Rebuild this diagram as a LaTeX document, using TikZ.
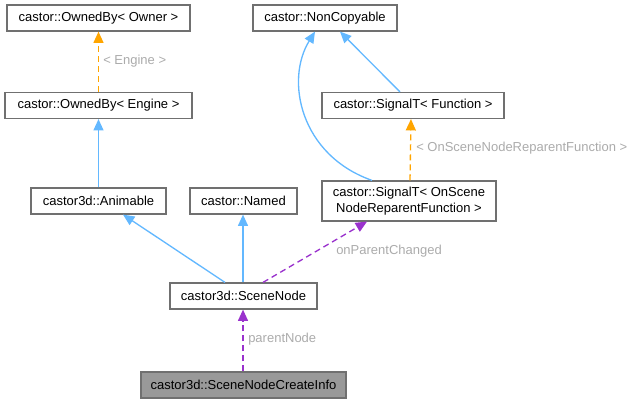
\documentclass[tikz,border=0pt]{standalone}
\usepackage{fontspec}
\setmainfont{Liberation Sans}
\usetikzlibrary{arrows.meta,calc}
\definecolor{edgeblue}{HTML}{63B8FF}
\definecolor{edgeorange}{HTML}{FFA500}
\definecolor{edgepurple}{HTML}{9A32CD}
\definecolor{boxborder}{HTML}{707070}
\definecolor{labelgray}{HTML}{ABABAB}
\definecolor{focusfill}{HTML}{999999}
\tikzset{
  cls/.style={draw=boxborder, fill=white, line width=0.9pt, rectangle, inner sep=0pt,
    font=\fontsize{9.75}{11.5}\selectfont, align=center, text=black},
  tip/.style={-{Triangle[length=8.5pt,width=7.5pt]}},
  inh/.style={draw=edgeblue, line width=1pt, tip},
  tmpl/.style={draw=edgeorange, line width=1pt, dash pattern=on 4.5pt off 3pt, tip},
  use/.style={draw=edgepurple, line width=1pt, dash pattern=on 4.5pt off 3pt, tip},
  lbl/.style={text=labelgray, font=\fontsize{9.75}{11.5}\selectfont, anchor=west, inner sep=0pt},
}
\begin{document}
\begin{tikzpicture}[x=0.75pt,y=-0.75pt]
\useasboundingbox (0,0) rectangle (632,403);
% nodes
\node[cls, minimum width=183*0.75pt, minimum height=26*0.75pt] (own) at (98.5,18) {castor::OwnedBy< Owner >};
\node[cls, minimum width=187*0.75pt, minimum height=26*0.75pt] (eng) at (98.5,105.5) {castor::OwnedBy< Engine >};
\node[cls, minimum width=144*0.75pt, minimum height=26*0.75pt] (nc) at (325,18) {castor::NonCopyable};
\node[cls, minimum width=182*0.75pt, minimum height=26*0.75pt] (sf) at (413,105.5) {castor::SignalT< Function >};
\node[cls, minimum width=174*0.75pt, minimum height=40*0.75pt] (so) at (409,201) {castor::SignalT< OnScene\\NodeReparentFunction >};
\node[cls, minimum width=135*0.75pt, minimum height=26*0.75pt] (an) at (98.5,201) {castor3d::Animable};
\node[cls, minimum width=107*0.75pt, minimum height=26*0.75pt] (nm) at (243.5,201) {castor::Named};
\node[cls, minimum width=147*0.75pt, minimum height=26*0.75pt] (sn) at (243.5,296) {castor3d::SceneNode};
\node[cls, fill=focusfill, minimum width=205*0.75pt, minimum height=26*0.75pt] (ci) at (243.5,385) {castor3d::SceneNodeCreateInfo};
% edges
\draw[tmpl] (eng.north) -- (own.south);
\node[lbl] (l1) at (103,61) {< Engine >};
\draw[inh] (an.north) -- (eng.south);
\draw[inh] ($(so.north)+(-37,0)$) .. controls (300,155) and (285,80) .. ($(nc.south)+(-10,0)$);
\draw[inh] ($(sf.north)+(-13,0)$) -- ($(nc.south)+(15,0)$);
\draw[tmpl] ($(so.north)+(1,0)$) -- ($(sf.south)+(-2,0)$);
\node[lbl] (l2) at (416,148) {< OnSceneNodeReparentFunction >};
\draw[inh] ($(sn.north)+(-18.5,0)$) -- ($(an.south)+(24.5,0)$);
\draw[inh] ($(sn.north)+(-0.5,0)$) -- ($(nm.south)+(-0.5,0)$);
\draw[use] ($(sn.north)+(19.5,0)$) -- ($(so.south)+(-42,0)$);
\node[lbl] (l3) at (336,251) {onParentChanged};
\draw[use] ($(ci.north)+(-0.5,0)$) -- ($(sn.south)+(-0.5,0)$);
\node[lbl] (l4) at (248,339) {parentNode};
\end{tikzpicture}
\end{document}
